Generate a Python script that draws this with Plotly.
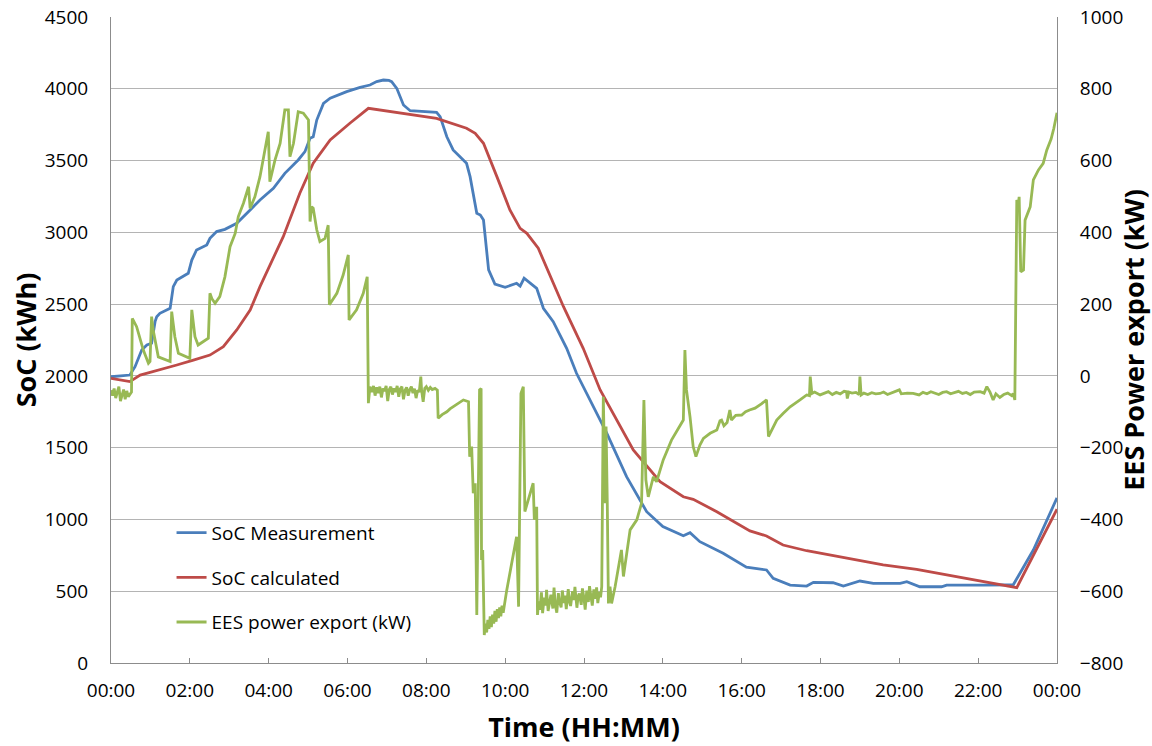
import pandas as pd
import plotly.graph_objects as go

# ---- data (time in hours of the day) ----
soc_meas_h = [0.00, 0.48, 0.61, 0.78, 0.91, 1.03, 1.12, 1.16, 1.24, 1.50, 1.58, 1.67, 1.96, 2.05,
              2.17, 2.43, 2.51, 2.68, 2.89, 3.19, 3.53, 3.78, 4.12, 4.41, 4.75, 4.92, 5.05, 5.13,
              5.22, 5.39, 5.56, 5.98, 6.32, 6.57, 6.74, 6.91, 7.05, 7.12, 7.25, 7.42, 7.59, 8.26,
              8.35, 8.52, 8.68, 9.02, 9.11, 9.28, 9.37, 9.45, 9.58, 9.74, 10.00, 10.29, 10.38,
              10.48, 10.80, 10.97, 11.22, 11.56, 11.81, 12.24, 12.58, 13.08, 13.59, 14.00, 14.52,
              14.69, 14.94, 15.53, 16.12, 16.63, 16.80, 17.23, 17.65, 17.82, 18.32, 18.58, 19.00,
              19.34, 20.02, 20.19, 20.52, 21.07, 21.20, 22.13, 22.89, 23.02, 23.40, 24.00]
soc_meas = [1994, 2006, 2064, 2180, 2215, 2227, 2380, 2412, 2436, 2471, 2622, 2668, 2715, 2807,
            2877, 2912, 2958, 3005, 3021, 3063, 3156, 3225, 3307, 3411, 3504, 3562, 3655, 3666,
            3782, 3898, 3934, 3980, 4010, 4026, 4050, 4061, 4058, 4050, 4003, 3887, 3847, 3836,
            3806, 3666, 3574, 3481, 3388, 3133, 3120, 3086, 2738, 2640, 2617, 2645, 2626,
            2680, 2610, 2471, 2378, 2192, 2018, 1785, 1600, 1298, 1054, 950, 887,
            908, 845, 764, 667, 648, 590, 543, 536, 562, 559, 536, 571,
            555, 555, 566, 531, 531, 543, 543, 545, 606, 787, 1150]

soc_calc_h = [0.00, 0.48, 0.74, 1.24, 1.67, 2.09, 2.51, 2.85, 3.19, 3.53, 3.78, 4.37, 4.79, 5.13,
              5.56, 6.06, 6.53, 8.26, 9.02, 9.24, 9.45, 9.79, 10.12, 10.38, 10.55, 10.84, 11.48,
              11.98, 12.41, 13.25, 13.93, 14.52, 14.77, 15.37, 16.21, 16.63, 17.05, 17.65, 19.59,
              20.44, 22.98, 24.00]
soc_calc = [1983, 1960, 2006, 2041, 2076, 2110, 2145, 2204, 2320, 2459, 2622, 2970, 3272, 3481,
            3643, 3760, 3864, 3794, 3725, 3690, 3620, 3388, 3156, 3028, 2993, 2889, 2482,
            2192, 1902, 1484, 1263, 1158, 1140, 1054, 920, 885, 822, 782, 683,
            653, 525, 1071]

power_h = [0.00, 0.04, 0.08, 0.12, 0.16, 0.20, 0.24, 0.28, 0.32, 0.36, 0.40, 0.44, 0.48, 0.52,
           0.54, 0.58, 0.65, 0.82, 0.95, 0.99, 1.03, 1.07, 1.20, 1.50, 1.54, 1.62, 1.71, 2.00,
           2.05, 2.13, 2.21, 2.47, 2.51, 2.56, 2.64, 2.76, 2.89, 3.02, 3.15, 3.23, 3.36, 3.49,
           3.53, 3.65, 3.78, 3.99, 4.03, 4.16, 4.29, 4.41, 4.50, 4.54, 4.63, 4.75, 4.88, 5.01,
           5.03, 5.05, 5.09, 5.13, 5.22, 5.30, 5.43, 5.51, 5.54, 5.73, 5.89, 6.02, 6.04, 6.23,
           6.40, 6.50, 6.53, 6.57, 6.62, 6.66, 6.70, 6.74, 6.78, 6.82, 6.86, 6.90, 6.94, 6.98,
           7.02, 7.06, 7.10, 7.14, 7.18, 7.22, 7.26, 7.30, 7.34, 7.38, 7.42, 7.46, 7.50, 7.54,
           7.58, 7.62, 7.66, 7.70, 7.74, 7.78, 7.82, 7.86, 7.88, 7.92, 7.96, 8.00, 8.05, 8.10,
           8.15, 8.22, 8.28, 8.30, 8.40, 8.52, 8.60, 8.68, 8.80, 8.94, 9.07, 9.10, 9.15, 9.19,
           9.24, 9.28, 9.35, 9.39, 9.40, 9.43, 9.47, 9.50, 9.53, 9.56, 9.59, 9.62, 9.65, 9.68,
           9.71, 9.74, 9.77, 9.80, 9.83, 9.86, 9.89, 9.92, 9.95, 10.04, 10.29, 10.34, 10.40,
           10.46, 10.50, 10.71, 10.74, 10.80, 10.82, 10.85, 10.88, 10.92, 10.95, 10.99, 11.03,
           11.05, 11.09, 11.13, 11.16, 11.21, 11.24, 11.27, 11.31, 11.35, 11.37, 11.42, 11.45,
           11.49, 11.52, 11.55, 11.60, 11.63, 11.66, 11.71, 11.74, 11.77, 11.82, 11.85, 11.88,
           11.93, 11.96, 12.00, 12.03, 12.07, 12.11, 12.14, 12.18, 12.21, 12.25, 12.29, 12.32,
           12.35, 12.39, 12.42, 12.45, 12.49,
           12.54, 12.56, 12.59, 12.62, 12.66, 12.70, 12.79, 12.95, 13.00, 13.17, 13.34, 13.46,
           13.52, 13.57, 13.63, 13.76, 13.84, 14.01, 14.22, 14.39, 14.52, 14.56, 14.60, 14.69,
           14.77, 14.84, 14.94, 15.03, 15.20, 15.37, 15.45, 15.49, 15.55, 15.63, 15.70, 15.74,
           15.85, 16.00, 16.10, 16.20, 16.34, 16.50, 16.63, 16.68, 16.89, 17.05, 17.23, 17.48,
           17.65, 17.72, 17.74, 17.78, 17.85, 17.99, 18.10, 18.20, 18.30, 18.40, 18.50, 18.60,
           18.66, 18.68, 18.72, 18.80, 18.90, 18.98, 19.00, 19.03, 19.10, 19.20, 19.30, 19.40,
           19.51, 19.60, 19.70, 19.80, 19.90, 20.00, 20.05, 20.20, 20.35, 20.50, 20.60, 20.70,
           20.80, 20.90, 21.00, 21.10, 21.20, 21.30, 21.40, 21.50, 21.60, 21.70, 21.80, 21.90,
           22.05, 22.15, 22.22, 22.30, 22.38, 22.45, 22.55, 22.65, 22.75, 22.85, 22.89, 22.93,
           22.98, 23.02, 23.04, 23.08, 23.15, 23.19, 23.32, 23.40, 23.53, 23.65, 23.74, 23.85,
           23.92, 24.00]
power_kw = [-40, -55, -35, -62, -45, -30, -70, -50, -38, -65, -42, -58, -53, -45,
            160, 150, 137, 72, 35, 40, 165, 128, 53, 40, 179, 109, 63, 49,
            184, 109, 86, 105, 230, 215, 202, 221, 276, 360, 397, 444, 481, 527,
            467, 499, 555, 680, 541, 601, 648, 741, 741, 611, 648, 736, 732, 713,
            583, 430, 471, 467, 407, 374, 383, 420, 198, 230, 281, 337, 156, 184,
            230, 276, -76, -30, -45, -28, -55, -32, -48, -30, -60, -35, -42, -28,
            -70, -38, -30, -52, -35, -45, -28, -58, -36, -30, -65, -40, -32, -55,
            -38, -30, -48, -36, -62, -40, -45, -2, -40, -72, -35, -30, -40, -32,
            -38, -35, -40, -118, -108, -100, -92, -86, -78, -67, -72, -225, -197, -327,
            -299, -666, -39, -35, -513, -485, -722, -690, -715, -680, -705, -670, -700, -665,
            -690, -655, -685, -650, -675, -645, -670, -640, -660, -597, -448, -643, -49,
            -30, -378, -299, -401, -365, -666, -628, -652, -603, -661, -618, -640,
            -596, -655, -622, -610, -648, -590, -637, -660, -605, -627, -645, -598,
            -633, -612, -650, -594, -629, -641, -600, -625, -588, -646, -615, -606,
            -638, -592, -620, -651, -598, -630, -586, -612, -640, -595, -621, -589,
            -633, -602, -617, -587, -58,
            -355, -141, -350, -634, -587, -634, -587, -485, -559, -429, -401, -355,
            -67, -290, -337, -281, -295, -234, -179, -146, -123, 72, -39, -114,
            -197, -225, -193, -174, -160, -151, -125, -123, -139, -130, -95, -123,
            -110, -109, -100, -95, -90, -78, -67, -169, -123, -105, -86, -67,
            -53, -55, -2, -49, -45, -53, -48, -44, -52, -46, -50, -43,
            -44, -63, -45, -48, -46, -52, -2, -53, -48, -52, -47, -50,
            -49, -45, -52, -47, -44, -39, -50, -48, -49, -53, -46, -50,
            -44, -48, -52, -46, -44, -50, -47, -43, -49, -46, -52, -45,
            -44, -48, -30, -45, -67, -50, -60, -52, -48, -55, -49, -67,
            490, 480, 499, 290, 295, 434, 471, 546, 574, 592, 629, 660,
            690, 733]

# axis settings
soc_range = [0, 4500]
power_range = [-800, 1000]
base = pd.Timestamp("2000-01-01")


def to_time(hours):
    return base + pd.to_timedelta(hours, unit="h")


FONT = "Open Sans"
BLUE, RED, GREEN = "#4A7EBB", "#BE4B48", "#98B954"
AXIS_GREY, GRID_GREY = "#8C8C8C", "#B4B4B4"
LW = 2.8

fig = go.Figure()
fig.add_trace(go.Scatter(x=to_time(soc_meas_h), y=soc_meas, mode="lines", name="SoC Measurement",
                         line=dict(color=BLUE, width=LW), legendgroup="a"))
fig.add_trace(go.Scatter(x=to_time(soc_calc_h), y=soc_calc, mode="lines", name="SoC calculated",
                         line=dict(color=RED, width=LW), legendgroup="b"))
fig.add_trace(go.Scatter(x=to_time(power_h), y=power_kw, mode="lines", name="EES power export (kW)",
                         line=dict(color=GREEN, width=LW), yaxis="y2", legendgroup="c"))

fig.update_layout(
    width=1152, height=746,
    margin=dict(l=111, r=95, t=17, b=83),
    paper_bgcolor="white", plot_bgcolor="white",
    font=dict(family=FONT, size=18, color="#000000"),
    showlegend=True,
    legend=dict(x=0.064, y=0.231, xanchor="left", yanchor="top", bgcolor="rgba(0,0,0,0)",
                font=dict(family=FONT, size=19, color="#000000"), tracegroupgap=17,
                itemwidth=30),
    xaxis=dict(type="date", range=[to_time(0), to_time(24)], dtick=2 * 3600 * 1000,
               tick0=to_time(0), tickformat="%H:%M", showgrid=False, zeroline=False,
               showline=True, linecolor=AXIS_GREY, linewidth=1, automargin=False,
               ticks="inside", ticklen=5, tickcolor=AXIS_GREY, ticklabelstandoff=10,
               tickfont=dict(size=19),
               title=dict(text="<b>Time (HH:MM)</b>", font=dict(size=27), standoff=16)),
    yaxis=dict(range=soc_range, dtick=500, showgrid=True, gridcolor=GRID_GREY, gridwidth=1,
               zeroline=False, showline=True, linecolor=AXIS_GREY, linewidth=1, automargin=False,
               ticks="", ticklabelstandoff=18, tickfont=dict(size=19),
               title=dict(text="<b>SoC (kWh)</b>", font=dict(size=27), standoff=0)),
    yaxis2=dict(range=power_range, dtick=200, overlaying="y", side="right", showgrid=False,
                zeroline=False, showline=True, linecolor=AXIS_GREY, linewidth=1, automargin=False,
                ticks="", ticklabelstandoff=18, tickfont=dict(size=19),
                title=dict(text="<b>EES Power export (kW)</b>", font=dict(size=27), standoff=8)),
    shapes=[dict(type="rect", xref="paper", yref="paper", x0=0.034, x1=0.357, y0=0.035, y1=0.245,
                 fillcolor="white", line=dict(width=0), layer="between")],
)

fig.write_html("out.html")
